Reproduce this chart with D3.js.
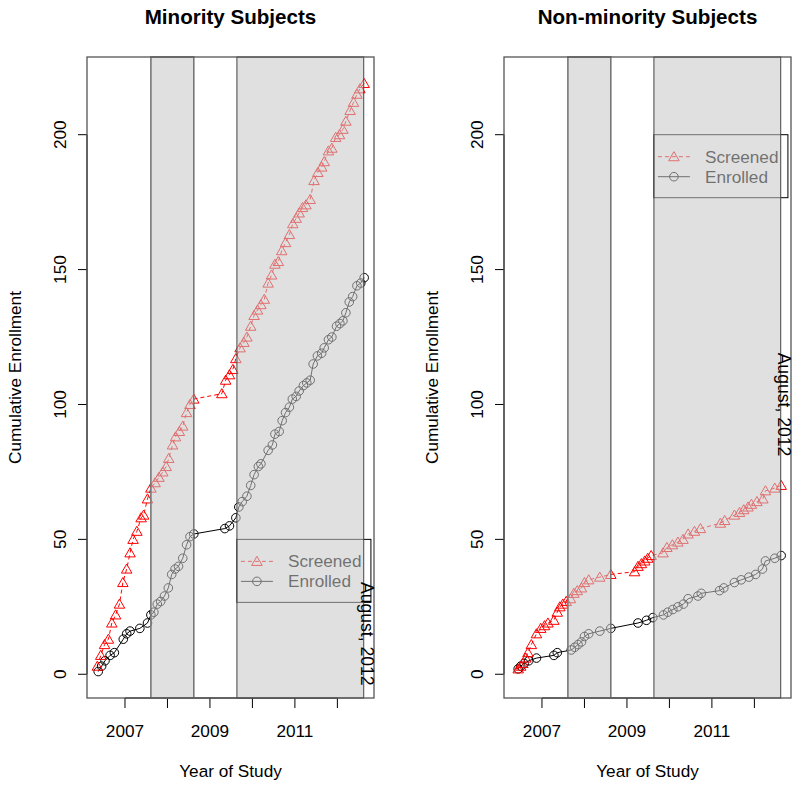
<!DOCTYPE html>
<html>
<head>
<meta charset="utf-8">
<script src="https://cdn.jsdelivr.net/npm/d3@7/dist/d3.min.js"></script>
<style>
  body { margin: 0; background: #fff; }
  text { font-family: "Liberation Sans", Arial, sans-serif; }
</style>
</head>
<body>
<svg id="chart" width="800" height="790"></svg>
<script>
// ---------------- DATA ----------------
const xTicks = [2007, 2008, 2009, 2010, 2011, 2012];
const xTickLabels = ["2007", "", "2009", "", "2011", ""];
const yTicks = [0, 50, 100, 150, 200];
const shadedPeriods = [[2007.61, 2008.62], [2009.635, 2012.62]];
const seriesNames = ["Screened", "Enrolled"];
const panelTitles = ["Minority Subjects", "Non-minority Subjects"];
const noteText = "August, 2012";
const noteYear = 2012.62;
const noteValues = [15, 100];
const legendYear = 2009.635;
const legendValues = [50, 200];

// Minority subjects
const minScreenedYear = [2006.35, 2006.43, 2006.52, 2006.61, 2006.69, 2006.78, 2006.87, 2006.95, 2007.04, 2007.12,
  2007.19, 2007.28, 2007.38, 2007.44, 2007.53, 2007.61, 2007.71, 2007.80, 2007.89, 2007.97,
  2008.03, 2008.12, 2008.19, 2008.28, 2008.36, 2008.45, 2008.53, 2008.62, 2009.28, 2009.37,
  2009.46, 2009.54, 2009.61, 2009.71, 2009.80, 2009.87, 2009.96, 2010.04, 2010.12, 2010.20,
  2010.28, 2010.37, 2010.45, 2010.53, 2010.61, 2010.69, 2010.78, 2010.87, 2010.95, 2011.03,
  2011.10, 2011.18, 2011.26, 2011.36, 2011.45, 2011.54, 2011.63, 2011.69, 2011.79, 2011.87,
  2011.96, 2012.05, 2012.13, 2012.20, 2012.30, 2012.38, 2012.46, 2012.53, 2012.63];
const minScreened = [3, 7, 11, 13, 19, 22, 26, 34, 39, 45,
  50, 53, 58, 59, 65, 69, 71, 73, 75, 77,
  80, 85, 88, 90, 92, 97, 100, 102, 104, 109,
  111, 113, 117, 121, 123, 125, 129, 133, 135, 137,
  139, 145, 148, 152, 153, 157, 160, 163, 167, 169,
  171, 173, 174, 176, 183, 186, 188, 190, 194, 195,
  199, 200, 202, 205, 209, 212, 215, 217, 219];
const minEnrolledYear = [2006.37, 2006.45, 2006.53, 2006.65, 2006.75, 2006.96, 2007.04, 2007.12, 2007.35, 2007.53,
  2007.61, 2007.68, 2007.76, 2007.84, 2007.93, 2008.02, 2008.10, 2008.18, 2008.26, 2008.36,
  2008.45, 2008.53, 2008.62, 2009.35, 2009.46, 2009.61, 2009.68, 2009.76, 2009.87, 2009.96,
  2010.04, 2010.14, 2010.20, 2010.37, 2010.47, 2010.53, 2010.63, 2010.70, 2010.78, 2010.87,
  2010.94, 2011.03, 2011.10, 2011.20, 2011.28, 2011.36, 2011.43, 2011.53, 2011.63, 2011.69,
  2011.79, 2011.87, 2011.98, 2012.06, 2012.13, 2012.20, 2012.28, 2012.36, 2012.46, 2012.55, 2012.63];
const minEnrolled = [1, 3, 5, 7, 8, 13, 15, 16, 17, 19,
  22, 23, 26, 27, 29, 32, 37, 39, 40, 43,
  48, 51, 52, 54, 55, 58, 62, 64, 66, 70,
  74, 77, 78, 83, 85, 89, 90, 94, 97, 99,
  102, 103, 105, 107, 108, 109, 115, 118, 119, 121,
  124, 125, 129, 130, 131, 134, 138, 140, 144, 145, 147];

// Non-minority subjects
const nonScreenedYear = [2006.44, 2006.50, 2006.55, 2006.62, 2006.67, 2006.75, 2006.87, 2006.97, 2007.06, 2007.14,
  2007.28, 2007.36, 2007.42, 2007.49, 2007.57, 2007.67, 2007.75, 2007.83, 2007.93, 2008.00,
  2008.10, 2008.36, 2008.62, 2009.18, 2009.26, 2009.34, 2009.42, 2009.49, 2009.57, 2009.85,
  2009.94, 2010.07, 2010.20, 2010.32, 2010.44, 2010.59, 2010.73, 2011.20, 2011.30, 2011.53,
  2011.65, 2011.75, 2011.85, 2011.93, 2012.06, 2012.20, 2012.26, 2012.48, 2012.63];
const nonScreened = [2, 3, 4, 6, 8, 11, 15, 17, 18, 19,
  20, 23, 25, 26, 27, 28, 30, 31, 32, 34,
  35, 36, 37, 38, 40, 41, 42, 43, 44, 45,
  47, 48, 49, 50, 52, 53, 54, 56, 57, 59,
  60, 61, 62, 63, 64, 65, 68, 69, 70];
const nonEnrolledYear = [2006.44, 2006.50, 2006.58, 2006.69, 2006.87, 2007.28, 2007.36, 2007.69, 2007.77, 2007.85,
  2007.93, 2008.00, 2008.10, 2008.36, 2008.62, 2009.26, 2009.46, 2009.61, 2009.86, 2009.96,
  2010.08, 2010.20, 2010.33, 2010.44, 2010.67, 2010.75, 2011.18, 2011.28, 2011.53, 2011.69,
  2011.87, 2012.03, 2012.19, 2012.26, 2012.48, 2012.63];
const nonEnrolled = [2, 3, 4, 5, 6, 7, 8, 9, 10, 11,
  12, 14, 15, 16, 17, 19, 20, 21, 22, 23,
  24, 25, 26, 28, 29, 30, 31, 32, 34, 35,
  36, 37, 39, 42, 43, 44];

// ---------------- DRAWING ----------------
const svg = d3.select("#chart");
const plotTop = 57, plotBottom = 698;
const fs = 17.2;

const panels = [
  { x0: 87, x1: 374, title: panelTitles[0],
    scrX: minScreenedYear, scrY: minScreened, enrX: minEnrolledYear, enrY: minEnrolled,
    legendV: legendValues[0], noteV: noteValues[0] },
  { x0: 504, x1: 791, title: panelTitles[1],
    scrX: nonScreenedYear, scrY: nonScreened, enrX: nonEnrolledYear, enrY: nonEnrolled,
    legendV: legendValues[1], noteV: noteValues[1] }
];

const triSym = d3.symbol().type(d3.symbolTriangle).size(48);
const cirR = 4.3;

panels.forEach(p => {
  const x = d3.scaleLinear().domain([2006.106, 2012.862]).range([p.x0, p.x1]);
  const y = d3.scaleLinear().domain([-8.8, 228.8]).range([plotBottom, plotTop]);
  const g = svg.append("g");
  const cx = (p.x0 + p.x1) / 2;

  // Title
  g.append("text").attr("x", cx).attr("y", 24).attr("text-anchor", "middle")
    .attr("font-size", 20.6).attr("font-weight", "bold").text(p.title);

  // Y axis (R style)
  const ya = g.append("g");
  ya.append("line").attr("x1", p.x0).attr("x2", p.x0)
    .attr("y1", y(yTicks[0])).attr("y2", y(yTicks[yTicks.length - 1])).attr("stroke", "#000");
  yTicks.forEach(t => {
    ya.append("line").attr("x1", p.x0 - 9).attr("x2", p.x0).attr("y1", y(t)).attr("y2", y(t)).attr("stroke", "#000");
    ya.append("text").attr("transform", `translate(${p.x0 - 21},${y(t)}) rotate(-90)`)
      .attr("text-anchor", "middle").attr("font-size", fs).text(t);
  });
  g.append("text").attr("transform", `translate(${p.x0 - 66},${(plotTop + plotBottom) / 2}) rotate(-90)`)
    .attr("text-anchor", "middle").attr("font-size", fs).text("Cumulative Enrollment");

  // X axis
  const xa = g.append("g");
  xa.append("line").attr("x1", x(xTicks[0])).attr("x2", x(xTicks[xTicks.length - 1]))
    .attr("y1", plotBottom).attr("y2", plotBottom).attr("stroke", "#000");
  xTicks.forEach((t, i) => {
    xa.append("line").attr("x1", x(t)).attr("x2", x(t)).attr("y1", plotBottom).attr("y2", plotBottom + 10).attr("stroke", "#000");
    if (xTickLabels[i]) xa.append("text").attr("x", x(t)).attr("y", 737).attr("text-anchor", "middle")
      .attr("font-size", fs).text(xTickLabels[i]);
  });
  g.append("text").attr("x", cx).attr("y", 777).attr("text-anchor", "middle")
    .attr("font-size", fs).text("Year of Study");

  // Data
  const scr = p.scrX.map((d, i) => [d, p.scrY[i]]);
  const enr = p.enrX.map((d, i) => [d, p.enrY[i]]);
  const line = d3.line().x(d => x(d[0])).y(d => y(d[1]));
  g.append("path").attr("d", line(enr)).attr("fill", "none").attr("stroke", "#000").attr("stroke-width", 1);
  g.append("path").attr("d", line(scr)).attr("fill", "none").attr("stroke", "#ff0000")
    .attr("stroke-width", 1).attr("stroke-dasharray", "4,3");
  g.selectAll(null).data(enr).join("circle").attr("cx", d => x(d[0])).attr("cy", d => y(d[1]))
    .attr("r", cirR).attr("fill", "none").attr("stroke", "#000").attr("stroke-width", 1);
  g.selectAll(null).data(scr).join("path").attr("d", triSym)
    .attr("transform", d => `translate(${x(d[0])},${y(d[1]) + 1})`)
    .attr("fill", "none").attr("stroke", "#ff0000").attr("stroke-width", 1);

  // Legend
  const lx = x(legendYear), ly = y(p.legendV);
  const lg = g.append("g").attr("transform", `translate(${lx},${ly})`);
  lg.append("rect").attr("x", 0).attr("y", 0).attr("width", 134).attr("height", 63)
    .attr("fill", "#fff").attr("stroke", "#000");
  const rows = [22, 42];
  lg.append("line").attr("x1", 4).attr("x2", 36).attr("y1", rows[0]).attr("y2", rows[0])
    .attr("stroke", "#ff0000").attr("stroke-dasharray", "4,3");
  lg.append("path").attr("d", triSym).attr("transform", `translate(20,${rows[0] + 1})`)
    .attr("fill", "none").attr("stroke", "#ff0000");
  lg.append("line").attr("x1", 4).attr("x2", 36).attr("y1", rows[1]).attr("y2", rows[1]).attr("stroke", "#000");
  lg.append("circle").attr("cx", 20).attr("cy", rows[1]).attr("r", cirR).attr("fill", "none").attr("stroke", "#000");
  seriesNames.forEach((n, i) => {
    lg.append("text").attr("x", 51).attr("y", rows[i] + 6).attr("font-size", fs).attr("fill", "#000").text(n);
  });

  // Shaded study periods (semi-transparent overlay on top)
  shadedPeriods.forEach((per, i) => {
    g.append("rect").attr("x", x(per[0])).attr("y", plotTop)
      .attr("width", x(per[1]) - x(per[0])).attr("height", plotBottom - plotTop)
      .attr("fill", "rgb(200,200,200)").attr("fill-opacity", 0.56)
      .attr("stroke", i === 0 ? "#777" : "#444").attr("stroke-width", i === 0 ? 1.6 : 1);
  });

  // Plot box
  g.append("rect").attr("x", p.x0).attr("y", plotTop).attr("width", p.x1 - p.x0)
    .attr("height", plotBottom - plotTop).attr("fill", "none").attr("stroke", "#555").attr("stroke-width", 1.3);

  // Note text
  g.append("text").attr("transform", `translate(${x(noteYear) + 3},${y(p.noteV)}) rotate(90)`)
    .attr("text-anchor", "middle").attr("dominant-baseline", "central")
    .attr("font-size", 17.6).attr("fill", "#000").text(noteText);
});
</script>
</body>
</html>
